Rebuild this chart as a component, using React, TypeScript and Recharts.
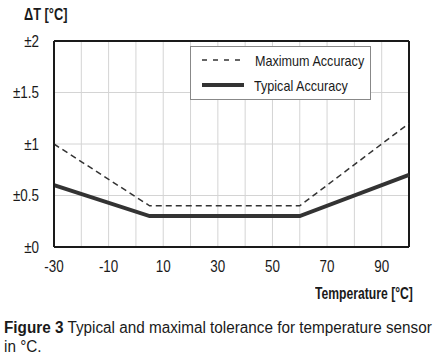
import { LineChart, Line, XAxis, YAxis, CartesianGrid, ReferenceLine } from "recharts";

// temperature [°C] breakpoints of the tolerance curves
const temps = [-30, 5, 60, 100];
const maxAccuracy = [1.0, 0.4, 0.4, 1.2];
const typicalAccuracy = [0.6, 0.3, 0.3, 0.7];

const xTicks = [-30, -20, -10, 0, 10, 20, 30, 40, 50, 60, 70, 80, 90, 100];
const xLabels = [-30, -10, 10, 30, 50, 70, 90];
const yTicks = [0, 0.5, 1, 1.5, 2];

const seriesNames = ["Maximum Accuracy", "Typical Accuracy"];

const data = temps.map((t, i) => ({
  t,
  max: maxAccuracy[i],
  typ: typicalAccuracy[i],
}));

const FONT = '"Liberation Sans", Arial, sans-serif';
const INK = "#333333";
const SQUEEZE = 0.84; // no Arial Narrow here, so squash Liberation Sans a bit

// horizontally squashed html text, anchored at its left edge
const Narrow = ({ children, k = SQUEEZE }: { children: any; k?: number }) => (
  <span style={{ display: "inline-block", whiteSpace: "nowrap", transform: `scaleX(${k})`, transformOrigin: "left center" }}>
    {children}
  </span>
);

// svg tick text squashed around its anchor point
const NarrowTick = (props: any) => {
  const { payload, textAnchor, fmt, dy, shiftX = 0 } = props;
  const x = props.x + shiftX;
  const y = props.y;
  const label = fmt(payload.value);
  if (!label) return null;
  return (
    <text
      x={x}
      y={y}
      dy={dy}
      textAnchor={textAnchor}
      fill="#1a1a1a"
      fontSize={16}
      fontFamily={FONT}
      transform={`translate(${x},${y}) scale(${SQUEEZE},1) translate(${-x},${-y})`}
    >
      {label}
    </text>
  );
};

const App = () => {
  return (
    <div style={{ position: "relative", width: 438, height: 360, fontFamily: FONT, color: "#1a1a1a" }}>
      <style>{`body{margin:0}`}</style>
      <LineChart
        width={438}
        height={360}
        data={data}
        margin={{ top: 41, right: 29, bottom: 83, left: 14 }}
      >
        <CartesianGrid stroke="#d4d4d4" strokeWidth={1} />
        <XAxis
          dataKey="t"
          type="number"
          domain={[-30, 100]}
          ticks={xTicks}
          interval={0}
          height={30}
          tickSize={0}
          tickMargin={0}
          tick={<NarrowTick dy={25} fmt={(v: number) => (xLabels.includes(v) ? String(v) : "")} />}
          axisLine={{ stroke: "#1a1a1a", strokeWidth: 2 }}
          tickLine={false}
        />
        <YAxis
          type="number"
          domain={[0, 2]}
          ticks={yTicks}
          width={40}
          tickSize={0}
          tickMargin={0}
          tick={<NarrowTick dy={6} shiftX={-15} fmt={(v: number) => `±${v}`} />}
          axisLine={{ stroke: "#1a1a1a", strokeWidth: 2 }}
          tickLine={false}
        />
        <ReferenceLine y={2} stroke="#1a1a1a" strokeWidth={2} />
        <ReferenceLine x={100} stroke="#1a1a1a" strokeWidth={2} />
        <Line
          dataKey="max"
          name={seriesNames[0]}
          type="linear"
          stroke={INK}
          strokeWidth={1.5}
          strokeDasharray="6 4"
          dot={false}
          isAnimationActive={false}
        />
        <Line
          dataKey="typ"
          name={seriesNames[1]}
          type="linear"
          stroke={INK}
          strokeWidth={4}
          dot={false}
          isAnimationActive={false}
        />
      </LineChart>

      {/* legend box */}
      <div
        style={{
          position: "absolute",
          left: 190,
          top: 46,
          width: 179,
          height: 52,
          background: "#fff",
          border: "1px solid #888",
          fontSize: 15,
        }}
      >
        {seriesNames.map((name, i) => (
          <div key={name} style={{ position: "absolute", left: 11, top: i === 0 ? 3 : 28, height: 20, display: "flex", alignItems: "center" }}>
            <svg width={42} height={8} style={{ display: "block" }}>
              <line
                x1={0}
                x2={42}
                y1={4}
                y2={4}
                stroke={INK}
                strokeWidth={i === 0 ? 1.5 : 4}
                strokeDasharray={i === 0 ? "5 6" : undefined}
              />
            </svg>
            <span style={{ marginLeft: i === 0 ? 11 : 10 }}>
              <Narrow>{name}</Narrow>
            </span>
          </div>
        ))}
      </div>

      {/* axis titles */}
      <div style={{ position: "absolute", left: 24, top: 6, fontSize: 16, fontWeight: "bold" }}>
        <Narrow k={0.8}>ΔT [°C]</Narrow>
      </div>
      <div style={{ position: "absolute", left: 315, top: 285, fontSize: 16, fontWeight: "bold" }}>
        <Narrow k={0.76}>Temperature [°C]</Narrow>
      </div>

      {/* caption */}
      <div style={{ position: "absolute", left: 4, top: 318, fontSize: 16, lineHeight: "19px" }}>
        <Narrow k={0.955}>
          <b>Figure 3</b> Typical and maximal tolerance for temperature sensor
        </Narrow>
        <br />
        <Narrow k={0.955}>in °C.</Narrow>
      </div>
    </div>
  );
};

export default App;
